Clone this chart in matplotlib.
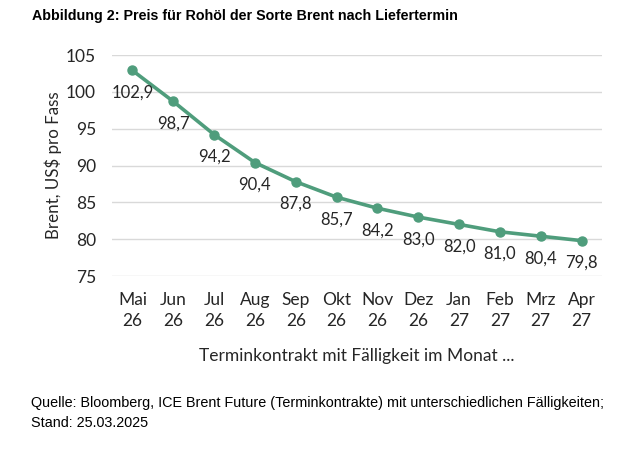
import matplotlib
matplotlib.use("Agg")
from matplotlib import pyplot as plt

# Daten
monate = ["Mai\n26", "Jun\n26", "Jul\n26", "Aug\n26", "Sep\n26", "Okt\n26",
          "Nov\n26", "Dez\n26", "Jan\n27", "Feb\n27", "Mrz\n27", "Apr\n27"]
preise = [102.9, 98.7, 94.2, 90.4, 87.8, 85.7, 84.2, 83.0, 82.0, 81.0, 80.4, 79.8]
y_ticks = [75, 80, 85, 90, 95, 100, 105]

gruen = "#4f9d7c"
text_farbe = "#262626"

fig = plt.figure(figsize=(6.35, 4.49), dpi=100)
ax = fig.add_axes([112 / 635, 1 - 276 / 449, 490 / 635, 221 / 449])

x = list(range(len(preise)))
ax.plot(x, preise, color=gruen, linewidth=2.6, marker="o", markersize=6.5, zorder=3)

# Datenbeschriftung
for xi, yi in zip(x, preise):
    ax.annotate("{:.1f}".format(yi).replace(".", ","), (xi, yi), xytext=(0, -16),
                textcoords="offset points", ha="center", va="center",
                fontsize=12, family="Lato", color=text_farbe)

ax.set_xlim(-0.5, len(preise) - 0.5)
ax.set_ylim(75, 105)
ax.set_yticks(y_ticks)
ax.set_xticks(x)
ax.set_xticklabels(monate, fontsize=12.5, family="Lato", color=text_farbe, linespacing=1.38)
for lab in ax.get_yticklabels():
    lab.set_fontsize(12.5)
    lab.set_family("Lato")
    lab.set_color(text_farbe)
ax.tick_params(length=0)
ax.tick_params(axis="x", pad=11.5)
ax.tick_params(axis="y", pad=11.5)
ax.grid(axis="y", color="#d9d9d9", linewidth=1)
ax.set_axisbelow(True)
for s in ax.spines.values():
    s.set_visible(False)

ax.set_ylabel("Brent, US$ pro Fass", fontsize=12.2, family="Lato", color=text_farbe, labelpad=3)
ax.set_xlabel("Terminkontrakt mit Fälligkeit im Monat ...", fontsize=12.5, family="Lato",
              color=text_farbe, labelpad=14)

# Titel und Quelle
fig.text(32 / 635, 1 - 16 / 449, "Abbildung 2: Preis für Rohöl der Sorte Brent nach Liefertermin",
         fontsize=10.3, fontweight="bold", family="Liberation Sans", va="center")
fig.text(31 / 635, 1 - 403 / 449,
         "Quelle: Bloomberg, ICE Brent Future (Terminkontrakte) mit unterschiedlichen Fälligkeiten;",
         fontsize=10.4, family="Liberation Sans", va="center")
fig.text(31 / 635, 1 - 423 / 449, "Stand: 25.03.2025",
         fontsize=10.4, family="Liberation Sans", va="center")

plt.savefig("out.png", dpi=100)
